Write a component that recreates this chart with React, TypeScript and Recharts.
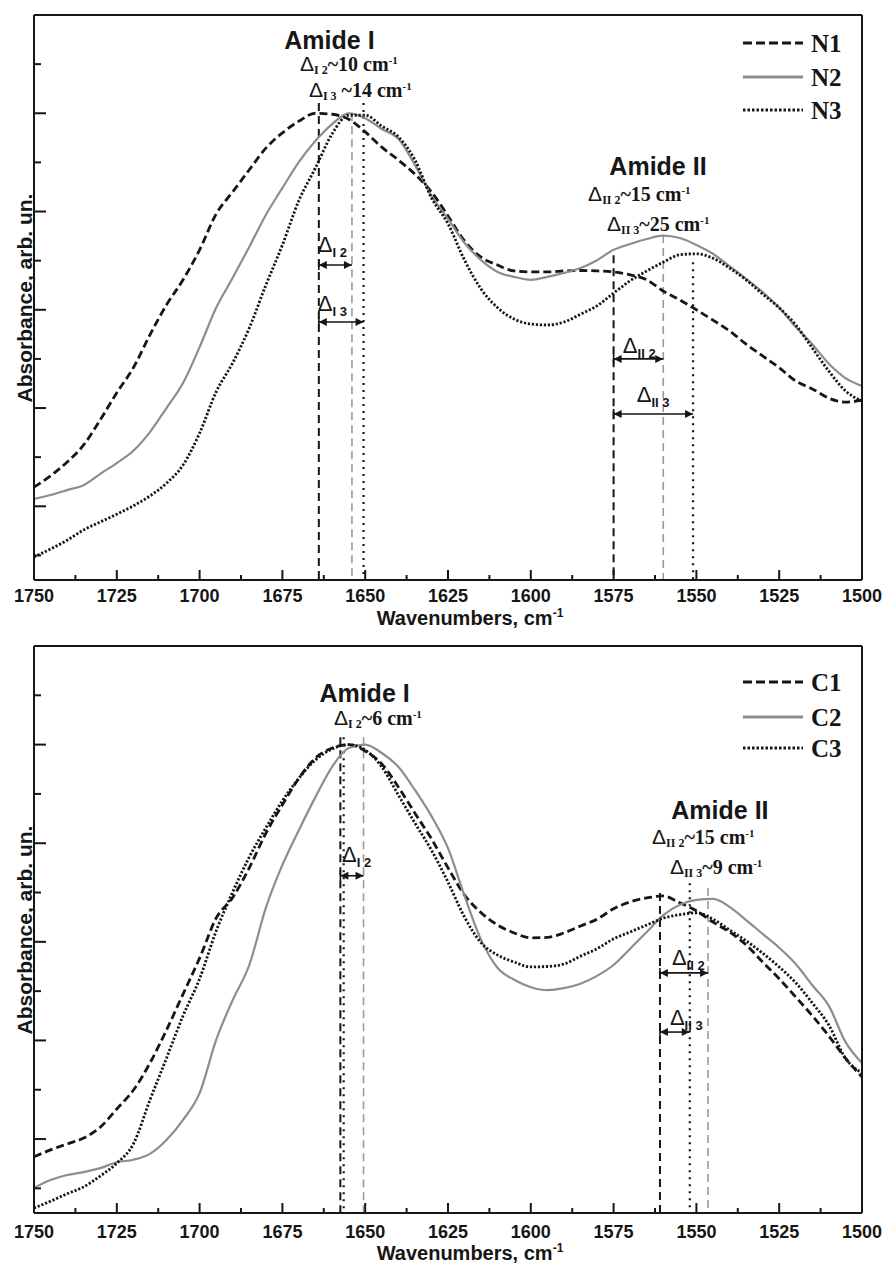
import React from 'react';
import { LineChart, Line, XAxis, YAxis, ReferenceLine, ReferenceDot } from 'recharts';

// wavenumber grid, cm-1 (left to right on the plot)
const wavenumbers = [1750, 1745, 1740, 1735, 1730, 1725, 1720, 1715, 1710, 1705, 1700, 1695, 1690, 1685, 1680, 1675, 1670, 1665, 1660, 1655, 1650, 1645, 1640, 1635, 1630, 1625, 1620, 1615, 1610, 1605, 1600, 1595, 1590, 1585, 1580, 1575, 1570, 1565, 1560, 1555, 1550, 1545, 1540, 1535, 1530, 1525, 1520, 1515, 1510, 1505, 1500];

// upper panel
const n1 = [0.239, 0.262, 0.290, 0.325, 0.376, 0.431, 0.482, 0.549, 0.610, 0.661, 0.722, 0.795, 0.840, 0.885, 0.929, 0.960, 0.984, 1.000, 0.998, 0.988, 0.962, 0.931, 0.905, 0.876, 0.840, 0.791, 0.740, 0.707, 0.691, 0.679, 0.677, 0.677, 0.679, 0.680, 0.679, 0.677, 0.671, 0.661, 0.638, 0.620, 0.600, 0.579, 0.557, 0.530, 0.506, 0.482, 0.455, 0.439, 0.420, 0.412, 0.416];
const n2 = [0.215, 0.223, 0.233, 0.243, 0.266, 0.288, 0.313, 0.351, 0.400, 0.451, 0.524, 0.604, 0.665, 0.728, 0.793, 0.848, 0.901, 0.944, 0.978, 1.000, 0.990, 0.968, 0.948, 0.895, 0.832, 0.785, 0.736, 0.701, 0.677, 0.667, 0.661, 0.667, 0.675, 0.685, 0.701, 0.722, 0.734, 0.744, 0.751, 0.746, 0.732, 0.714, 0.689, 0.663, 0.636, 0.604, 0.565, 0.530, 0.490, 0.461, 0.445];
const n3 = [0.097, 0.113, 0.131, 0.152, 0.168, 0.184, 0.201, 0.221, 0.247, 0.284, 0.349, 0.433, 0.492, 0.563, 0.650, 0.732, 0.823, 0.889, 0.958, 0.996, 0.996, 0.974, 0.952, 0.905, 0.828, 0.775, 0.701, 0.642, 0.604, 0.581, 0.571, 0.569, 0.575, 0.591, 0.608, 0.634, 0.659, 0.679, 0.697, 0.712, 0.714, 0.705, 0.685, 0.661, 0.632, 0.604, 0.569, 0.522, 0.475, 0.435, 0.414];

// lower panel
const c1 = [0.164, 0.178, 0.190, 0.202, 0.224, 0.261, 0.299, 0.354, 0.421, 0.494, 0.567, 0.648, 0.690, 0.750, 0.820, 0.878, 0.932, 0.973, 0.993, 1.000, 0.987, 0.961, 0.914, 0.861, 0.809, 0.750, 0.695, 0.659, 0.634, 0.618, 0.608, 0.609, 0.618, 0.632, 0.646, 0.667, 0.681, 0.689, 0.693, 0.679, 0.663, 0.640, 0.620, 0.594, 0.559, 0.525, 0.488, 0.450, 0.409, 0.364, 0.326];
const c2 = [0.101, 0.117, 0.127, 0.133, 0.141, 0.153, 0.158, 0.170, 0.198, 0.239, 0.293, 0.401, 0.482, 0.553, 0.669, 0.756, 0.827, 0.894, 0.955, 0.993, 1.000, 0.983, 0.955, 0.908, 0.855, 0.790, 0.693, 0.604, 0.547, 0.523, 0.508, 0.502, 0.506, 0.515, 0.531, 0.553, 0.586, 0.620, 0.654, 0.675, 0.685, 0.687, 0.671, 0.644, 0.616, 0.588, 0.555, 0.512, 0.470, 0.397, 0.354];
const c3 = [0.060, 0.074, 0.089, 0.103, 0.125, 0.151, 0.190, 0.279, 0.364, 0.450, 0.525, 0.622, 0.701, 0.772, 0.831, 0.886, 0.932, 0.969, 0.991, 1.000, 0.989, 0.955, 0.898, 0.841, 0.786, 0.721, 0.650, 0.598, 0.573, 0.559, 0.549, 0.550, 0.555, 0.571, 0.586, 0.606, 0.620, 0.634, 0.648, 0.655, 0.659, 0.646, 0.624, 0.602, 0.577, 0.549, 0.517, 0.476, 0.431, 0.364, 0.334];

const xTicks = [1750, 1737.5, 1725, 1712.5, 1700, 1687.5, 1675, 1662.5, 1650, 1637.5, 1625, 1612.5, 1600, 1587.5, 1575, 1562.5, 1550, 1537.5, 1525, 1512.5, 1500];
const xLabels = [1750, 1725, 1700, 1675, 1650, 1625, 1600, 1575, 1550, 1525, 1500];
const yTicks = [0.1, 0.2, 0.3, 0.4, 0.5, 0.6, 0.7, 0.8, 0.9, 1.0, 1.1];
const yMajor = [0.2, 0.4, 0.6, 0.8, 1.0];

// peak markers (cm-1) and how high they start
const topPeaks = [
  { x: 1664, top: 1.021, kind: 'dash' }, { x: 1654, top: 1.0, kind: 'gray' }, { x: 1650.5, top: 1.021, kind: 'dot' },
  { x: 1575, top: 0.711, kind: 'dash' }, { x: 1560, top: 0.752, kind: 'gray' }, { x: 1551, top: 0.697, kind: 'dot' },
];
const bottomPeaks = [
  { x: 1657.5, top: 1.015, kind: 'dash' }, { x: 1656.5, top: 1.015, kind: 'dot' }, { x: 1650.5, top: 1.015, kind: 'gray' },
  { x: 1561, top: 0.699, kind: 'dash' }, { x: 1552, top: 0.719, kind: 'dot' }, { x: 1546.5, top: 0.709, kind: 'gray' },
];
const topArrows = [
  { from: 1664, to: 1654, y: 0.691 }, { from: 1664, to: 1650.5, y: 0.575 },
  { from: 1575, to: 1560, y: 0.500 }, { from: 1575, to: 1551, y: 0.388 },
];
const bottomArrows = [
  { from: 1657.5, to: 1650.5, y: 0.734 }, { from: 1561, to: 1546.5, y: 0.537 }, { from: 1561, to: 1552, y: 0.417 },
];
const topNotes = [
  { type: 'title', x: 1660.8, y: 1.131, text: 'Amide I' },
  { type: 'shift', x: 1669.7, y: 1.086, sub: 'I 2', text: '~10 cm' },
  { type: 'shift', x: 1667, y: 1.033, sub: 'I 3', text: ' ~14 cm' },
  { type: 'title', x: 1561.6, y: 0.874, text: 'Amide II' },
  { type: 'shift', x: 1582.7, y: 0.821, sub: 'II 2', text: '~15 cm' },
  { type: 'shift', x: 1577, y: 0.760, sub: 'II 3', text: '~25 cm' },
  { type: 'delta', x: 1664.3, y: 0.718, sub: 'I 2' },
  { type: 'delta', x: 1664.3, y: 0.598, sub: 'I 3' },
  { type: 'delta', x: 1572.2, y: 0.512, sub: 'II 2' },
  { type: 'delta', x: 1568, y: 0.412, sub: 'II 3' },
];
const bottomNotes = [
  { type: 'title', x: 1650.2, y: 1.086, text: 'Amide I' },
  { type: 'shift', x: 1659.4, y: 1.040, sub: 'I 2', text: '~6 cm' },
  { type: 'delta', x: 1657, y: 0.762, sub: 'I 2' },
  { type: 'title', x: 1542.9, y: 0.849, text: 'Amide II' },
  { type: 'shift', x: 1563.4, y: 0.798, sub: 'II 2', text: '~15 cm' },
  { type: 'shift', x: 1558, y: 0.738, sub: 'II 3', text: '~9 cm' },
  { type: 'delta', x: 1557.4, y: 0.553, sub: 'II 2' },
  { type: 'delta', x: 1558, y: 0.431, sub: 'II 3' },
];

const SANS = '"Liberation Sans", Arial, sans-serif';
const SERIF = '"Liberation Serif", "Times New Roman", serif';
const INK = '#161616';
const GRAY = '#8d8d8d';

const styles = {
  dash: { stroke: INK, dash: '8 4', width: 2.8 },
  gray: { stroke: GRAY, dash: undefined, width: 2.2 },
  dot: { stroke: INK, dash: '2.2 1.8', width: 2.8 },
};
const refStyles = {
  dash: { stroke: INK, dash: '8 5', width: 2 },
  gray: { stroke: '#9a9a9a', dash: '8 5', width: 1.6 },
  dot: { stroke: INK, dash: '2 5', width: 2.2 },
};

const topSeries = [{ key: 'N1', kind: 'dash', values: n1 }, { key: 'N2', kind: 'gray', values: n2 }, { key: 'N3', kind: 'dot', values: n3 }];
const bottomSeries = [{ key: 'C1', kind: 'dash', values: c1 }, { key: 'C2', kind: 'gray', values: c2 }, { key: 'C3', kind: 'dot', values: c3 }];

const makeRows = (series) => wavenumbers.map((wn, i) => {
  const row = { wn };
  series.forEach(s => { row[s.key] = s.values[i]; });
  return row;
});

const Arrow = (p) => {
  const { x1, x2, y1 } = p;
  const dir = x2 > x1 ? 1 : -1;
  const h = 8, w = 4;
  return (
    <g>
      <line x1={x1} x2={x2} y1={y1} y2={y1} stroke={INK} strokeWidth={1.6} />
      <polygon points={`${x1},${y1} ${x1 + dir * h},${y1 - w} ${x1 + dir * h},${y1 + w}`} fill={INK} />
      <polygon points={`${x2},${y1} ${x2 - dir * h},${y1 - w} ${x2 - dir * h},${y1 + w}`} fill={INK} />
      <line x1={x1} x2={x1} y1={y1 - 5} y2={y1 + 5} stroke={INK} strokeWidth={1.6} />
    </g>
  );
};

const noteShape = (n) => (p) => {
  const { cx, cy } = p;
  if (n.type === 'title') {
    return <text x={cx} y={cy} textAnchor="middle" fontFamily={SANS} fontWeight="bold" fontSize={25} fill={INK}>{n.text}</text>;
  }
  if (n.type === 'shift') {
    return (
      <text x={cx} y={cy} fontFamily={SERIF} fontWeight="bold" fontSize={20} fill={INK}>
        <tspan fontFamily={SANS} fontWeight="normal" fontSize={21}>Δ</tspan>
        <tspan fontSize={12} dy={3}>{n.sub}</tspan>
        <tspan dy={-3}>{n.text}</tspan>
        <tspan fontSize={11} dy={-7}>-1</tspan>
      </text>
    );
  }
  return (
    <text x={cx} y={cy} fontFamily={SANS} fontSize={22} fill={INK}>
      <tspan>Δ</tspan>
      <tspan fontSize={13} fontWeight="bold" dy={5}>{n.sub}</tspan>
    </text>
  );
};

const bottomTick = (gap) => (p) => {
  const { x, y, payload } = p;
  const major = xLabels.includes(payload.value);
  return (
    <g>
      <line x1={x} x2={x} y1={y} y2={y - (major ? 10 : 5)} stroke={INK} strokeWidth={2} />
      {major && <text x={x} y={y + gap} textAnchor="middle" fontFamily={SANS} fontWeight="bold" fontSize={18} fill={INK}>{payload.value}</text>}
    </g>
  );
};
const topTick = (p) => {
  const major = xLabels.includes(p.payload.value);
  return <line x1={p.x} x2={p.x} y1={p.y} y2={p.y + (major ? 10 : 5)} stroke={INK} strokeWidth={2} />;
};
const isMajorY = (v) => yMajor.some(m => Math.abs(m - v) < 1e-6);
const leftTick = (p) => <line x1={p.x} x2={p.x + (isMajorY(p.payload.value) ? 12 : 7)} y1={p.y} y2={p.y} stroke={INK} strokeWidth={2} />;
const rightTick = (p) => <line x1={p.x} x2={p.x - (isMajorY(p.payload.value) ? 12 : 6)} y1={p.y} y2={p.y} stroke={INK} strokeWidth={2} />;

const axisLine = { stroke: INK, strokeWidth: 2 };

function Panel({ top, height, bottomPad, series, peaks, arrows, notes, tickGap, titleY, yTitleY, legendY }) {
  const rows = makeRows(series);
  return (
    <div style={{ position: 'absolute', left: 0, top, width: 883, height }}>
      <LineChart width={883} height={height} data={rows} margin={{ top: 14, right: 20, bottom: bottomPad - 1, left: 33 }}>
        <XAxis dataKey="wn" type="number" domain={[1500, 1750]} reversed ticks={xTicks} interval={0} height={1}
          tickSize={0} tickMargin={0} tickLine={false} axisLine={axisLine} tick={bottomTick(tickGap)} />
        <XAxis xAxisId="top" orientation="top" type="number" domain={[1500, 1750]} reversed ticks={xTicks} interval={0} height={1}
          tickSize={0} tickMargin={0} tickLine={false} axisLine={axisLine} tick={topTick} />
        <YAxis yAxisId="left" type="number" domain={[0.05, 1.2]} ticks={yTicks} interval={0} width={1}
          tickSize={0} tickMargin={0} tickLine={false} axisLine={axisLine} tick={leftTick} />
        <YAxis yAxisId="right" orientation="right" type="number" domain={[0.05, 1.2]} ticks={yTicks} interval={0} width={1}
          tickSize={0} tickMargin={0} tickLine={false} axisLine={axisLine} tick={rightTick} />
        {peaks.map((pk, i) => (
          <ReferenceLine key={'pk' + i} yAxisId="left" segment={[{ x: pk.x, y: pk.top }, { x: pk.x, y: 0.05 }]}
            stroke={refStyles[pk.kind].stroke} strokeWidth={refStyles[pk.kind].width} strokeDasharray={refStyles[pk.kind].dash} />
        ))}
        {series.map(s => (
          <Line key={s.key} yAxisId="left" dataKey={s.key} type="monotone" dot={false} isAnimationActive={false}
            stroke={styles[s.kind].stroke} strokeWidth={styles[s.kind].width} strokeDasharray={styles[s.kind].dash} />
        ))}
        {arrows.map((a, i) => (
          <ReferenceLine key={'ar' + i} yAxisId="left" segment={[{ x: a.from, y: a.y }, { x: a.to, y: a.y }]} shape={Arrow} />
        ))}
        {notes.map((n, i) => (
          <ReferenceDot key={'nt' + i} yAxisId="left" x={n.x} y={n.y} r={0} ifOverflow="visible" shape={noteShape(n)} />
        ))}
      </LineChart>
      <svg width={883} height={height} style={{ position: 'absolute', left: 0, top: 0, pointerEvents: 'none' }}>
        <text x={470} y={titleY} textAnchor="middle" fontFamily={SANS} fontWeight="bold" fontSize={20} fill={INK}>
          Wavenumbers, cm<tspan fontSize={12} dy={-8}>-1</tspan>
        </text>
        <text transform={`translate(32, ${yTitleY}) rotate(-90)`} textAnchor="middle" fontFamily={SANS} fontWeight="bold" fontSize={21} fill={INK}>
          Absorbance, arb. un.
        </text>
        {series.map((s, i) => (
          <g key={s.key}>
            <line x1={743} x2={803} y1={legendY[i]} y2={legendY[i]} stroke={styles[s.kind].stroke} strokeWidth={3.2}
              strokeDasharray={s.kind === 'dash' ? '9 4' : s.kind === 'dot' ? '2.5 2' : undefined} />
            <text x={811} y={legendY[i] + 9} fontFamily={SERIF} fontWeight="bold" fontSize={25} fill={INK}>{s.key}</text>
          </g>
        ))}
      </svg>
    </div>
  );
}

export default function App() {
  return (
    <div style={{ position: 'absolute', left: 0, top: 0, width: 883, height: 1266, background: '#fff' }}>
      <Panel top={0} height={632} bottomPad={52} series={topSeries} peaks={topPeaks} arrows={topArrows} notes={topNotes}
        tickGap={22} titleY={625} yTitleY={298} legendY={[43, 77, 110]} />
      <Panel top={631} height={635} bottomPad={53} series={bottomSeries} peaks={bottomPeaks} arrows={bottomArrows} notes={bottomNotes}
        tickGap={25} titleY={629} yTitleY={299} legendY={[51, 86, 117]} />
    </div>
  );
}
